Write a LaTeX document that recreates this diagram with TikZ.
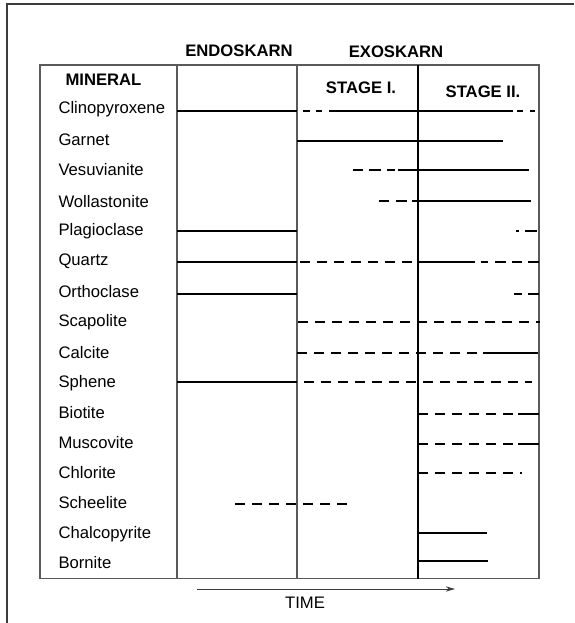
\documentclass[tikz,border=0pt]{standalone}
\usepackage{fontspec}
\setmainfont{Liberation Sans}
\usetikzlibrary{arrows.meta}

\tikzset{every picture/.style={line width=0.75pt}}
\tikzset{
  frame/.style={color={rgb, 255:red, 90; green, 90; blue, 90 }, line width=1.1pt},
  spanline/.style={line width=1.5pt},
  spandash/.style={line width=1.5pt, dash pattern=on 7.5pt off 5.25pt},
  lbl/.style={anchor=base west, inner sep=0.75pt, font=\fontsize{12.5}{15}\selectfont},
  hdr/.style={anchor=base, inner sep=0.75pt, font=\fontsize{12.5}{15}\selectfont\bfseries}
}

\begin{document}
\begin{tikzpicture}[x=0.75pt,y=0.75pt,yscale=-1,xscale=1]
    \useasboundingbox (0,0) rectangle (574,623);

    %Shape: Outer Frame
    \draw [color={rgb, 255:red, 60; green, 60; blue, 60 }, line width=0.8pt]  (7,623) -- (7,4) -- (574,4) ;
    %Shape: Rectangle
    \draw [frame]  (40,65) -- (539,65) -- (539,578.5) -- (40,578.5) -- cycle ;
    %Straight Lines
    \draw [frame]  (177,65) -- (177,578.5) ;
    %Straight Lines
    \draw [frame]  (297,65) -- (297,578.5) ;
    %Straight Lines
    \draw [line width=0.8pt]  (418,65) -- (418,578.5) ;

    % Text Node
    \draw (239,57) node [hdr] (endo) {ENDOSKARN};
    % Text Node
    \draw (396,58) node [hdr] (exo) {EXOSKARN};
    % Text Node
    \draw (64,86) node [hdr, anchor=base west] (mineral) {MINERAL};
    % Text Node
    \draw (361,94) node [hdr] (stageI) {STAGE I.};
    % Text Node
    \draw (483,98) node [hdr] (stageII) {STAGE II.};

    % Text Node
    \draw (57,114) node [lbl] (clino) {Clinopyroxene};
    \draw (57,146) node [lbl] (garnet) {Garnet};
    \draw (57,176) node [lbl] (vesu) {Vesuvianite};
    \draw (57,208) node [lbl] (wolla) {Wollastonite};
    \draw (57,236) node [lbl] (plagio) {Plagioclase};
    \draw (57,265) node [lbl] (quartz) {Quartz};
    \draw (57,297) node [lbl] (ortho) {Orthoclase};
    \draw (57,326) node [lbl] (scapo) {Scapolite};
    \draw (57,358) node [lbl] (calcite) {Calcite};
    \draw (57,387) node [lbl] (sphene) {Sphene};
    \draw (57,418) node [lbl] (biotite) {Biotite};
    \draw (57,448) node [lbl] (musco) {Muscovite};
    \draw (57,478) node [lbl] (chlorite) {Chlorite};
    \draw (57,508) node [lbl] (scheel) {Scheelite};
    \draw (57,538) node [lbl] (chalco) {Chalcopyrite};
    \draw (57,568) node [lbl] (bornite) {Bornite};

    %Straight Lines -- Clinopyroxene
    \draw [spanline]  (177,111) -- (297,111) ;
    \draw [spanline]  (303,111) -- (310,111) ;
    \draw [spanline]  (316,111) -- (322,111) ;
    \draw [spanline]  (329,111) -- (513,111) ;
    \draw [spanline]  (517,111) -- (523,111) ;
    \draw [spanline]  (530,111) -- (535,111) ;
    %Straight Lines -- Garnet
    \draw [spanline]  (297,141) -- (503,141) ;
    %Straight Lines -- Vesuvianite
    \draw [spanline]  (353,170) -- (363,170) ;
    \draw [spanline]  (369,170) -- (381,170) ;
    \draw [spanline]  (387,170) -- (395,170) ;
    \draw [spanline]  (398,170) -- (529,170) ;
    %Straight Lines -- Wollastonite
    \draw [spanline]  (379,201) -- (389,201) ;
    \draw [spanline]  (396,201) -- (407,201) ;
    \draw [spanline]  (412,201) -- (531,201) ;
    %Straight Lines -- Plagioclase
    \draw [spanline]  (177,231) -- (297,231) ;
    \draw [spanline]  (516,231) -- (519,231) ;
    \draw [spanline]  (525,231) -- (537,231) ;
    %Straight Lines -- Quartz
    \draw [spanline]  (177,262) -- (297,262) ;
    \draw [spandash]  (300,262) -- (412,262) ;
    \draw [spanline]  (418,262) -- (475,262) ;
    \draw [spanline]  (481,262) -- (488,262) ;
    \draw [spanline]  (495,262) -- (506,262) ;
    \draw [spanline]  (512,262) -- (522,262) ;
    \draw [spanline]  (528,262) -- (539,262) ;
    %Straight Lines -- Orthoclase
    \draw [spanline]  (177,294) -- (297,294) ;
    \draw [spanline]  (514,294) -- (522,294) ;
    \draw [spanline]  (528,294) -- (539,294) ;
    %Straight Lines -- Scapolite
    \draw [spandash]  (298,322) -- (540,322) ;
    %Straight Lines -- Calcite
    \draw [spandash]  (297,353) -- (478,353) ;
    \draw [spanline]  (483,353) -- (538,353) ;
    %Straight Lines -- Sphene
    \draw [spanline]  (177,382) -- (297,382) ;
    \draw [spandash]  (304,382) -- (532,382) ;
    %Straight Lines -- Biotite
    \draw [spandash]  (418,414) -- (513,414) ;
    \draw [spanline]  (518,414) -- (539,414) ;
    %Straight Lines -- Muscovite
    \draw [spandash]  (418,444) -- (513,444) ;
    \draw [spanline]  (518,444) -- (539,444) ;
    %Straight Lines -- Chlorite
    \draw [spandash]  (418,473) -- (514,473) ;
    \draw [line width=1pt]  (520,473) -- (522,473) ;
    %Straight Lines -- Scheelite
    \draw [spandash]  (235,504) -- (347,504) ;
    %Straight Lines -- Chalcopyrite
    \draw [spanline]  (418,533) -- (487,533) ;
    %Straight Lines -- Bornite
    \draw [spanline]  (418,561) -- (488,561) ;

    %Straight Lines -- time axis
    \coordinate (tstart) at (197,589) ;
    \coordinate (tend) at (455,589) ;
    \draw [color={rgb, 255:red, 60; green, 60; blue, 60 }, -{Stealth[length=7pt,width=4pt]}]  (tstart) -- (tend) ;
    % Text Node
    \draw (305,608) node [lbl, anchor=base] (time) {TIME};

\end{tikzpicture}
\end{document}
